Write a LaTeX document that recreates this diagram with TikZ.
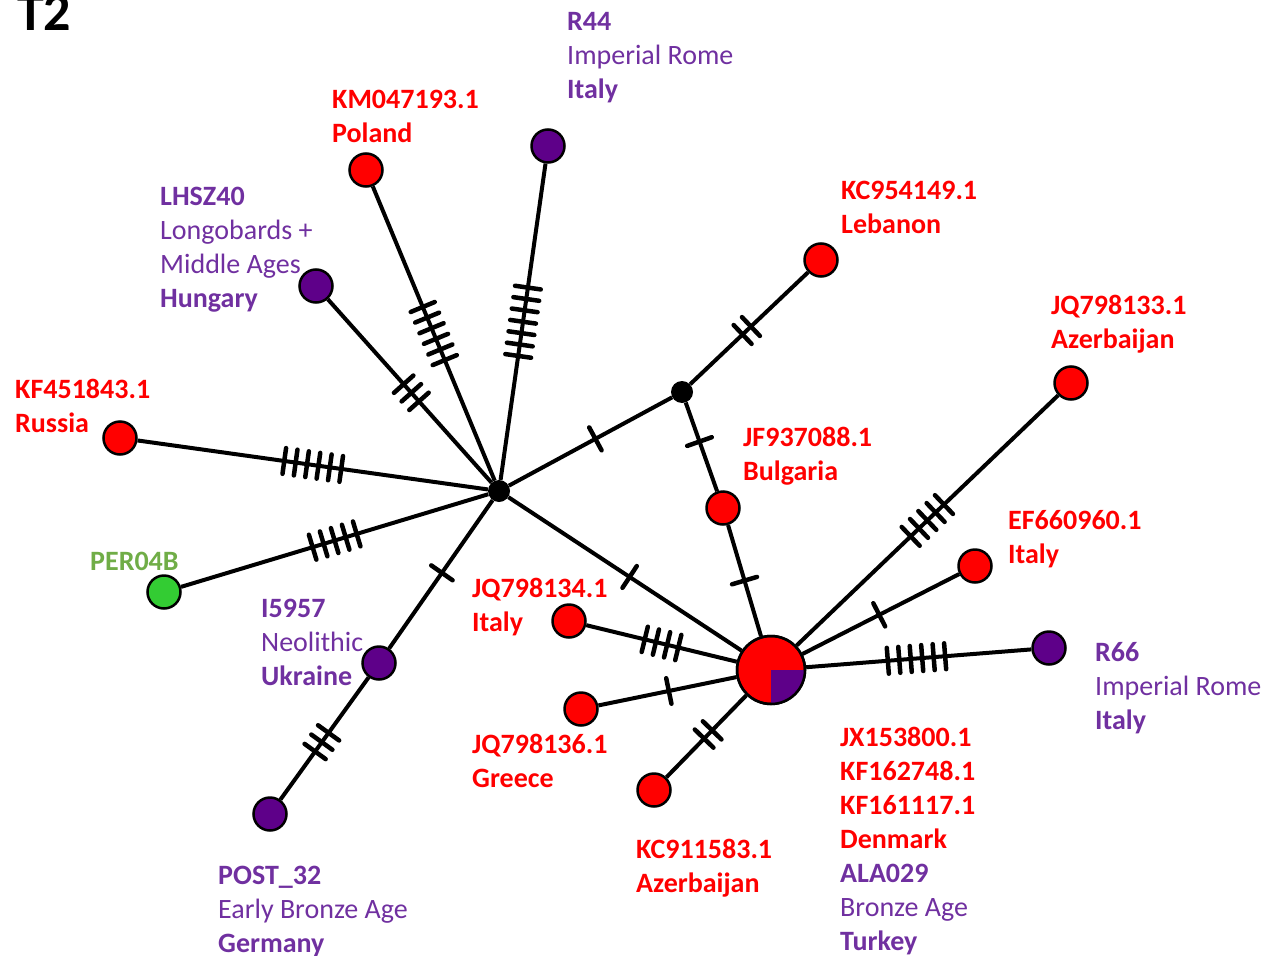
\documentclass[tikz,border=0pt]{standalone}
\usepackage{fontspec}
\setmainfont{Carlito}
\usetikzlibrary{decorations.markings}
\definecolor{nred}{HTML}{FF0000}
\definecolor{npurple}{HTML}{5E0089}
\definecolor{tpurple}{HTML}{7030A0}
\definecolor{ngreen}{HTML}{33CC33}
\definecolor{tgreen}{HTML}{70AD47}
\begin{document}
\begin{tikzpicture}[x=1pt,y=-1pt,
  edge/.style={line width=4pt},
  mut/.style n args={2}{postaction={decorate,decoration={markings,
      mark=at position #1 with {\foreach \k in {1,...,#2}{
        \draw[line width=4.5pt,line cap=round]
          ({(\k-(#2+1)/2)*11.5pt},-13pt) -- ({(\k-(#2+1)/2)*11.5pt},13pt);}}}}},
  hap/.style={circle,draw=black,line width=2.5pt,minimum size=33pt,inner sep=0pt},
  redhap/.style={hap,fill=nred},
  purphap/.style={hap,fill=npurple},
  greenhap/.style={hap,fill=ngreen},
  med/.style={circle,fill=black,minimum size=22pt,inner sep=0pt},
  lab/.style={anchor=north west,inner sep=0pt,align=left,font=\fontsize{28}{34}\selectfont},
  redlab/.style={lab,text=nred,font=\fontsize{28}{34}\selectfont\bfseries},
  purplab/.style={lab,text=tpurple}
]
\useasboundingbox (0,0) rectangle (1265,955);

% panel title
\node[anchor=base west,inner sep=0pt,font=\fontsize{54}{60}\selectfont\bfseries] (title) at (17,31) {T2};

% median vectors and haplotypes
\node[med] (H) at (499,491) {};
\node[med] (S) at (682,392) {};
\node[circle,fill=nred,draw=black,line width=2.5pt,minimum size=68pt,inner sep=0pt] (B) at (771,670) {};
\fill[npurple] (B.center) -- ++(34pt,0pt) arc[start angle=0,end angle=-90,radius=34pt] -- cycle;
\draw[line width=2.5pt] (B.center) circle[radius=34pt];

\node[redhap] (KM) at (366,170) {};
\node[purphap] (R44) at (548,146) {};
\node[purphap] (LH) at (316,286) {};
\node[redhap] (KC9541) at (821,260) {};
\node[redhap] (JQ33) at (1071,383) {};
\node[redhap] (KF45) at (120,438) {};
\node[redhap] (JF) at (723,508) {};
\node[redhap] (EF) at (975,566) {};
\node[greenhap] (PER) at (164,592) {};
\node[redhap] (JQ34) at (569,621) {};
\node[purphap] (I59) at (379,663) {};
\node[purphap] (R66) at (1049,648) {};
\node[redhap] (JQ36) at (581,709) {};
\node[redhap] (KC9115) at (654,790) {};
\node[purphap] (POST) at (270,814) {};

% network links with mutation ticks
\draw[edge,mut={0.5}{6}] (H) -- (KM);
\draw[edge,mut={0.5}{7}] (H) -- (R44);
\draw[edge,mut={0.49}{3}] (H) -- (LH);
\draw[edge,mut={0.5}{6}] (H) -- (KF45);
\draw[edge,mut={0.5}{5}] (H) -- (PER);
\draw[edge,mut={0.49}{1}] (H) -- (I59);
\draw[edge,mut={0.53}{3}] (I59) -- (POST);
\draw[edge,mut={0.53}{1}] (H) -- (S);
\draw[edge,mut={0.48}{2}] (S) -- (KC9541);
\draw[edge,mut={0.44}{1}] (S) -- (JF);
\draw[edge,mut={0.5}{1}] (JF) -- (B);
\draw[edge,mut={0.52}{1}] (H) -- (B);
\draw[edge,mut={0.5}{4}] (B) -- (JQ34);
\draw[edge,mut={0.49}{1}] (B) -- (JQ36);
\draw[edge,mut={0.48}{2}] (B) -- (KC9115);
\draw[edge,mut={0.5}{5}] (B) -- (JQ33);
\draw[edge,mut={0.49}{1}] (B) -- (EF);
\draw[edge,mut={0.49}{6}] (B) -- (R66);

% labels
\node[redlab] (tKM) at (332,90) {KM047193.1\\Poland};
\node[purplab] (tR44) at (567,12) {\textbf{R44}\\Imperial Rome\\\textbf{Italy}};
\node[purplab] (tLH) at (160,187) {\textbf{LHSZ40}\\Longobards +\\Middle Ages\\\textbf{Hungary}};
\node[redlab] (tKC9541) at (841,181) {KC954149.1\\Lebanon};
\node[redlab] (tJQ33) at (1051,295) {JQ798133.1\\Azerbaijan};
\node[redlab] (tKF45) at (15,379) {KF451843.1\\Russia};
\node[redlab] (tJF) at (743,427) {JF937088.1\\Bulgaria};
\node[redlab] (tEF) at (1008,510) {EF660960.1\\Italy};
\node[lab,text=tgreen,font=\fontsize{28}{34}\selectfont\bfseries] (tPER) at (90,552) {PER04B};
\node[purplab] (tI59) at (261,599) {\textbf{I5957}\\Neolithic\\\textbf{Ukraine}};
\node[redlab] (tJQ34) at (472,578) {JQ798134.1\\Italy};
\node[purplab] (tR66) at (1095,642) {\textbf{R66}\\Imperial Rome\\\textbf{Italy}};
\node[redlab] (tJQ36) at (472,734) {JQ798136.1\\Greece};
\node[lab] (tB) at (840,727) {\textcolor{nred}{\textbf{JX153800.1}}\\\textcolor{nred}{\textbf{KF162748.1}}\\\textcolor{nred}{\textbf{KF161117.1}}\\\textcolor{nred}{\textbf{Denmark}}\\\textcolor{tpurple}{\textbf{ALA029}}\\\textcolor{tpurple}{Bronze Age}\\\textcolor{tpurple}{\textbf{Turkey}}};
\node[redlab] (tKC9115) at (636,839) {KC911583.1\\Azerbaijan};
\node[purplab] (tPOST) at (218,866) {\textbf{POST\_32}\\Early Bronze Age\\\textbf{Germany}};
\end{tikzpicture}
\end{document}
